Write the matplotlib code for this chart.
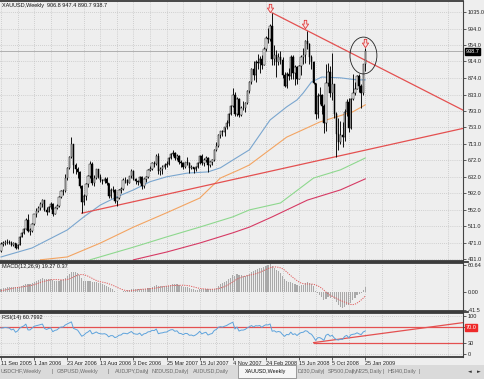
import numpy as np
import pandas as pd
import matplotlib.pyplot as plt
from matplotlib.patches import Ellipse, Rectangle
from matplotlib.lines import Line2D

W, H = 485, 379

# weekly XAUUSD bars, first bar = week of 11 Sep 2005
closes = [468, 469, 473, 472, 471, 465, 470, 459, 466, 485, 495, 505, 527, 500, 500, 517,
          540, 549, 556, 566, 575, 552, 546, 557, 565, 541, 555, 560, 582, 597, 597, 630,
          654, 680, 712, 660, 652, 643, 610, 570, 585, 614, 633, 664, 616, 630, 650, 632,
          625, 622, 626, 616, 585, 600, 599, 573, 581, 600, 603, 624, 623, 618, 633, 646,
          627, 622, 620, 632, 609, 626, 631, 648, 651, 666, 664, 684, 645, 652, 655, 662,
          663, 677, 688, 690, 679, 684, 667, 665, 657, 667, 666, 654, 656, 650, 656, 666,
          682, 666, 674, 679, 661, 668, 672, 698, 708, 735, 743, 741, 753, 763, 785, 806,
          833, 786, 823, 783, 800, 800, 812, 842, 864, 895, 882, 913, 911, 921, 905, 945,
          972, 970, 1001, 920, 931, 912, 924, 917, 882, 853, 883, 878, 924, 886, 901, 871,
          903, 926, 931, 963, 956, 926, 912, 862, 785, 830, 833, 804, 764, 862, 888, 837,
          860, 786, 737, 718, 735, 730, 790, 815, 752, 822, 838, 847, 878, 853, 838, 906.8,
          938.7]
highs = [473, 474, 477, 479, 478, 474, 472, 471, 468, 487, 497, 507, 531, 541, 508, 520,
         542, 556, 560, 570, 578, 575, 557, 560, 570, 567, 557, 566, 584, 599, 602, 638,
         657, 682, 730, 713, 665, 657, 645, 612, 590, 616, 636, 670, 668, 636, 652, 652,
         638, 627, 631, 632, 617, 604, 610, 601, 583, 603, 608, 628, 631, 627, 635, 650,
         649, 630, 625, 635, 635, 628, 634, 650, 658, 668, 670, 687, 690, 656, 660, 665,
         670, 680, 691, 697, 692, 688, 686, 673, 668, 669, 680, 667, 661, 657, 658, 668,
         685, 687, 677, 684, 680, 670, 675, 700, 716, 737, 745, 747, 755, 770, 787, 807,
         848, 840, 828, 825, 806, 818, 814, 845, 866, 897, 914, 918, 933, 927, 931, 950,
         976, 995, 1006, 1033, 955, 942, 935, 940, 925, 888, 888, 898, 930, 931, 905, 902,
         906, 930, 946, 966, 988, 959, 930, 915, 862, 838, 852, 835, 810, 909, 911, 902,
         935, 860, 790, 775, 768, 765, 799, 823, 825, 825, 883, 865, 882, 883, 859, 908,
         947.4]
lows = [449, 462, 466, 468, 467, 462, 462, 456, 456, 465, 484, 492, 504, 497, 490, 498,
        515, 533, 545, 552, 558, 549, 538, 545, 553, 535, 540, 553, 558, 580, 587, 595,
        624, 651, 678, 642, 638, 629, 605, 543, 562, 576, 607, 628, 612, 610, 627, 629,
        620, 615, 617, 612, 580, 580, 595, 567, 560, 577, 592, 600, 616, 612, 616, 630,
        625, 614, 613, 618, 603, 605, 620, 629, 645, 648, 657, 662, 640, 636, 640, 650,
        657, 661, 675, 684, 674, 672, 664, 657, 652, 654, 662, 642, 651, 642, 647, 654,
        664, 662, 658, 668, 644, 656, 662, 670, 696, 706, 727, 731, 731, 750, 757, 784,
        803, 780, 780, 778, 780, 796, 790, 810, 838, 858, 868, 865, 895, 885, 895, 905,
        940, 958, 965, 905, 905, 876, 906, 909, 874, 851, 850, 868, 870, 870, 857, 858,
        870, 880, 909, 911, 945, 908, 895, 860, 773, 776, 811, 786, 740, 745, 854, 827,
        821, 776, 681, 698, 711, 706, 720, 780, 741, 750, 819, 833, 846, 840, 801, 832,
        890.7]
# closes before the visible window (Oct 2004 - Sep 2005), warm-up for MACD / RSI
pre_closes = [420, 425, 428, 430, 433, 440, 447, 452, 455, 438, 443, 442,
              420, 423, 427, 425, 415, 420, 428, 433,
              443, 445, 428, 428, 427, 425, 434, 436, 427, 420, 419, 417, 425, 440,
              434, 437, 424, 421, 425, 428, 437, 447, 440, 435, 438, 450]

# moving averages (week index, price)
ma_blue_w = [0, 15, 32, 40, 48, 56, 64, 72, 80, 90, 100, 106, 112, 120, 130, 138, 143, 146, 150, 155, 164, 172, 176]
ma_blue_v = [436, 458, 502, 534, 563, 583, 600, 620, 632, 641, 644, 654, 673, 698, 771, 803, 820, 837, 864, 876, 874, 869, 869]
ma_orange_w = [19, 32, 48, 64, 80, 96, 106, 115, 120, 138, 148, 154, 170, 176]
ma_orange_v = [429, 436, 470, 509, 544, 580, 629, 649, 661, 729, 752, 766, 791, 808]
ma_green_w = [43, 64, 80, 96, 112, 120, 135, 151, 164, 176]
ma_green_v = [429, 460, 485, 509, 534, 551, 568, 629, 649, 678]
ma_red_w = [64, 80, 96, 112, 120, 131, 148, 164, 176]
ma_red_v = [429, 448, 470, 495, 509, 534, 575, 600, 627]

# hand drawn objects
resist_w, resist_v = [131, 230], [1033, 777.5]
support_w, support_v = [39, 230], [543, 758]
rsi_trend_w, rsi_trend_v = [151, 230], [30, 87.5]
arrow_w = [130, 147, 176]
arrow_v = [1046, 1005, 958]
bid = 938.7

price_ticks = [1035.0, 994.0, 954.0, 914.0, 874.0, 833.0, 793.0, 753.0, 713.0,
               672.0, 632.0, 592.0, 552.0, 511.0, 471.0, 431.0]
date_ticks = list(range(0, 177, 16))
date_labels = ['11 Sep 2005', '1 Jan 2006', '23 Apr 2006', '13 Aug 2006', '3 Dec 2006',
               '25 Mar 2007', '15 Jul 2007', '4 Nov 2007', '24 Feb 2008', '15 Jun 2008',
               '5 Oct 2008', '25 Jan 2009']
tabs = ['USDCHF,Weekly', 'GBPUSD,Weekly', 'AUDJPY,Daily', 'NZDUSD,Daily', 'AUDUSD,Daily',
        'XAUUSD,Weekly', 'DJ30,Daily', 'SP500,Daily', 'N225,Daily', 'HSI40,Daily']
active_tab = 'XAUUSD,Weekly'
# tab bar layout (pixels)
tab_x = [1, 57, 115, 152, 193, 245, 298, 328, 356, 388]
sep_x = [52, 108, 147, 187, 323, 352, 383, 419]

# ---- indicators
allc = pd.Series(pre_closes + closes, dtype=float)
n_pre = len(pre_closes)
macd = allc.ewm(span=12, adjust=False).mean() - allc.ewm(span=26, adjust=False).mean()
signal = macd.rolling(9).mean()
d = allc.diff()
up = d.clip(lower=0).ewm(alpha=1 / 14, adjust=False).mean()
dn = (-d.clip(upper=0)).ewm(alpha=1 / 14, adjust=False).mean()
rsi = 100 - 100 / (1 + up / dn)
macd = macd.values[n_pre:]
signal = signal.values[n_pre:]
rsi = rsi.values[n_pre:]

weeks = np.arange(len(closes))
opens = np.array([pre_closes[-1]] + closes[:-1])
closes_a = np.array(closes)

bg = '#eeeeee'
grid_c = '#b4b4b4'
fs = 4.0
plt.rcParams['font.family'] = ['Liberation Sans Narrow', 'DejaVu Sans Condensed', 'Liberation Sans', 'DejaVu Sans']

fig = plt.figure(figsize=(W / 100, H / 100), dpi=100)
fig.patch.set_facecolor(bg)


def px_box(x0, y0, x1, y1):
    return [x0 / W, 1 - y1 / H, (x1 - x0) / W, (y1 - y0) / H]


ax = fig.add_axes(px_box(0, 1, 463, 261))
axm = fig.add_axes(px_box(0, 263, 463, 311), sharex=ax)
axr = fig.add_axes(px_box(0, 313, 463, 357), sharex=ax)
axt = fig.add_axes(px_box(0, 365, 485, 379))

for a in (ax, axm, axr):
    a.set_facecolor(bg)
    a.yaxis.tick_right()
    a.tick_params(axis='y', direction='out', length=2, width=0.5, labelsize=fs, pad=1.5,
                  colors='#222222')
    a.tick_params(axis='x', which='both', length=0, labelbottom=False)
    a.spines['left'].set_visible(False)
    a.spines['right'].set_color('#444444')
    a.spines['right'].set_linewidth(0.8)
    for s in ('top', 'bottom'):
        a.spines[s].set_color('#3a3a3a')
        a.spines[s].set_linewidth(1.3)
    a.set_xticks(np.arange(8, 224, 16), minor=True)
    a.grid(True, axis='x', which='both', color=grid_c, lw=0.5, ls=(0, (1, 2)))
    a.set_axisbelow(True)

ax.set_xlim(-0.5, 223.2)
ax.set_xticks(date_ticks)

# ---- price panel
ax.set_ylim(426.1, 1061.9)
ax.set_yticks(price_ticks)
ax.set_yticklabels(['%.1f' % p for p in price_ticks])
ax.grid(True, axis='y', color=grid_c, lw=0.5, ls=(0, (1, 2)))
ax.axhline(bid, color='#b0b0b0', lw=0.7, zorder=1)

ax.plot(ma_red_w, ma_red_v, color='#d63a64', lw=0.8, zorder=2)
ax.plot(ma_green_w, ma_green_v, color='#8ed88e', lw=0.8, zorder=2)
ax.plot(ma_orange_w, ma_orange_v, color='#f3a462', lw=0.8, zorder=2)
ax.plot(ma_blue_w, ma_blue_v, color='#7aa6cf', lw=0.8, zorder=2)
ax.plot(support_w, support_v, color='#e45050', lw=0.9, zorder=2)
ax.plot(resist_w, resist_v, color='#e45050', lw=0.9, zorder=2)

ax.vlines(weeks, lows, highs, color='black', lw=0.65, zorder=3)
bull = closes_a >= opens
body_lo = np.minimum(opens, closes_a)
body_h = np.maximum(np.abs(closes_a - opens), 0.8)
ax.bar(weeks, body_h, bottom=body_lo, width=0.65,
       color=np.where(bull, 'white', 'black'), edgecolor='black', lw=0.35, zorder=4)

ax.add_patch(Ellipse((175.1, 928.6), 13, 90, fill=False, ec='#222222', lw=0.6, zorder=5))
arrow_marker = [(-0.3, 1), (0.3, 1), (0.3, 0.1), (0.75, 0.1), (0, -1), (-0.75, 0.1), (-0.3, 0.1), (-0.3, 1)]
ax.plot(arrow_w, arrow_v, ls='none', marker=arrow_marker, ms=6, mfc='#f6dede', mec='#e03a3a',
        mew=0.6, zorder=6)

ax.text(0.004, 0.992, 'XAUUSD,Weekly  906.8 947.4 890.7 938.7', transform=ax.transAxes,
        fontsize=fs, va='top', ha='left', color='#111111')
ax.text(1.006, bid, '%.1f' % bid, transform=ax.get_yaxis_transform(), fontsize=fs,
        va='center', ha='left', color='white',
        bbox=dict(boxstyle='square,pad=0.15', fc='black', ec='black'))

# ---- MACD panel
axm.set_ylim(-44.3, 65.3)
axm.set_yticks([60.64, 0.0, -41.5])
axm.set_yticklabels(['60.64', '0.00', '-41.5'])
axm.bar(weeks, macd, width=0.55, color='#a9a9a9', zorder=2)
axm.plot(weeks, signal, color='#e05a5a', lw=0.7, ls=(0, (1.2, 1.2)), zorder=3)
axm.text(0.004, 0.97, 'MACD(12,26,9) 19.27 0.37', transform=axm.transAxes,
         fontsize=fs, va='top', ha='left', color='#111111')

# ---- RSI panel
axr.set_ylim(-7.9, 107.9)
axr.set_yticks([100, 70, 30, 0])
axr.set_yticklabels(['100', '', '30', '0'])
axr.grid(True, axis='y', color=grid_c, lw=0.5, ls=(0, (1, 2)))
axr.axhline(70, color='#e45050', lw=0.9, zorder=2)
axr.plot([rsi_trend_w[0], 230], [30, 30], color='#e45050', lw=0.9, zorder=2)
axr.plot(rsi_trend_w, rsi_trend_v, color='#e45050', lw=0.9, zorder=2)
axr.plot(weeks, rsi, color='#5ea3dc', lw=0.7, zorder=3)
axr.text(1.006, 70, '70.0', transform=axr.get_yaxis_transform(), fontsize=fs,
         va='center', ha='left', color='white',
         bbox=dict(boxstyle='square,pad=0.15', fc='#ee2a2a', ec='#ee2a2a'))
axr.text(0.004, 0.95, 'RSI(14) 60.7992', transform=axr.transAxes,
         fontsize=fs, va='top', ha='left', color='#111111')
axr.set_xticklabels(date_labels)
axr.tick_params(axis='x', which='major', length=2, width=0.5, direction='out',
                labelbottom=True, labelsize=fs, pad=1, colors='#222222')
for lab in axr.get_xticklabels():
    lab.set_ha('left')

# separators between panels reach into the price scale
for y in (262, 312):
    fig.add_artist(Line2D([0, 468 / W], [1 - y / H] * 2, color='#3a3a3a', lw=1.3))

# ---- tab bar
axt.set_xlim(0, W)
axt.set_ylim(14, 0)
axt.axis('off')
axt.add_patch(Rectangle((0, 0), W, 14, fc='#dadada', ec='none'))
axt.add_patch(Rectangle((238, 0), 58, 13, fc='#f6f6f6', ec='#7a7a7a', lw=0.5))
for name, x in zip(tabs, tab_x):
    active = name == active_tab
    axt.text(x, 7, name, fontsize=fs - 0.1, va='center', ha='left',
             color='#111111' if active else '#6a6a6a')
for x in sep_x:
    axt.text(x, 7, '|', fontsize=fs - 0.1, va='center', ha='center', color='#6a6a6a')
axt.text(470, 7, '\u25c4', fontsize=3.5, va='center', ha='center', color='#333333',
         family='DejaVu Sans')
axt.text(479, 7, '\u25ba', fontsize=3.5, va='center', ha='center', color='#333333',
         family='DejaVu Sans')

fig.savefig('out.png', dpi=100, facecolor=fig.get_facecolor())
